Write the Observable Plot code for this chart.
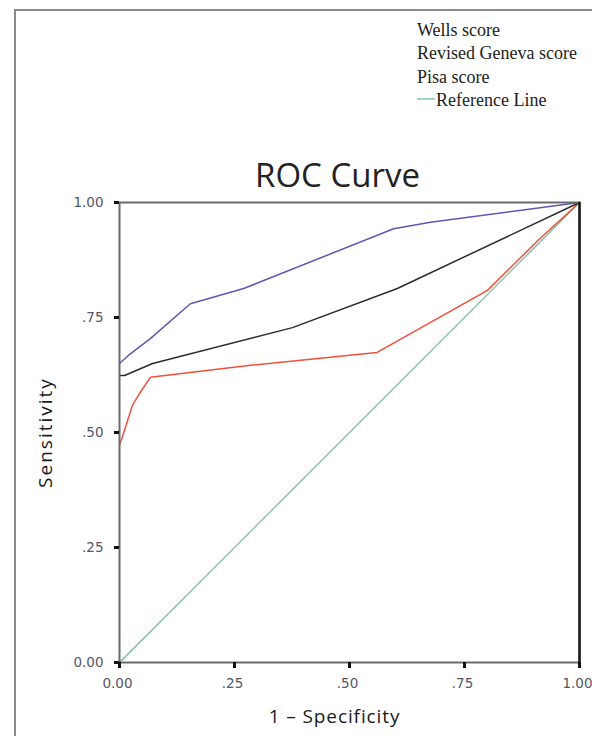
<!DOCTYPE html>
<html>
<head>
<meta charset="utf-8">
<script src="https://cdn.jsdelivr.net/npm/d3@7"></script>
<script src="https://cdn.jsdelivr.net/npm/@observablehq/plot@0.6"></script>
<style>
  html, body { margin: 0; padding: 0; background: #fff; }
  #wrap { position: relative; width: 592px; height: 736px; overflow: hidden; background: #fff; }
  #border { position: absolute; left: 14px; top: 9px; width: 700px; height: 800px;
            border-left: 2px solid #8a8a8a; border-top: 2px solid #8a8a8a; }
  #chart { position: absolute; left: 0; top: 0; }
  #legend { position: absolute; left: 417px; top: 19px; font-family: "Liberation Serif", serif;
            font-size: 18px; line-height: 23.3px; color: #222; white-space: nowrap; }
  #legend .sw { display: inline-block; width: 18px; height: 0; border-top: 2px solid #9fd9bc;
                vertical-align: 6px; margin-right: 1px; }
</style>
</head>
<body>
<div id="wrap">
  <div id="border"></div>
  <div id="chart"></div>
  <div id="legend"></div>
</div>
<script>
// ---- data ----
const seriesNames = ["Wells score", "Revised Geneva score", "Pisa score", "Reference Line"];

const wellsFPR = [0, 0.02, 0.067, 0.154, 0.27, 0.596, 0.676, 1];
const wellsTPR = [0.65, 0.668, 0.704, 0.78, 0.813, 0.943, 0.957, 1];

const genevaFPR = [0, 0.011, 0.072, 0.376, 0.604, 1];
const genevaTPR = [0.624, 0.624, 0.65, 0.728, 0.813, 1];

const pisaFPR = [0, 0.011, 0.028, 0.045, 0.067, 0.285, 0.56, 0.80, 0.91, 1];
const pisaTPR = [0.472, 0.505, 0.559, 0.587, 0.62, 0.646, 0.674, 0.809, 0.918, 1];

const refFPR = [0, 1];
const refTPR = [0, 1];

const tickValues = [0, 0.25, 0.5, 0.75, 1];
const tickLabels = ["0.00", ".25", ".50", ".75", "1.00"];

const titleText = "ROC Curve";
const xTitle = "1 – Specificity";
const yTitle = "Sensitivity";

// ---- build tables ----
const toRows = (xs, ys) => xs.map((x, i) => ({x, y: ys[i]}));
const wells = toRows(wellsFPR, wellsTPR);
const geneva = toRows(genevaFPR, genevaTPR);
const pisa = toRows(pisaFPR, pisaTPR);
const ref = toRows(refFPR, refTPR);

const fmt = d => tickLabels[tickValues.indexOf(d)];

const chart = Plot.plot({
  width: 592,
  height: 736,
  marginLeft: 119,
  marginRight: 13,
  marginTop: 202,
  marginBottom: 74,
  style: {fontFamily: "DejaVu Sans", fontSize: "13.5px", background: "transparent"},
  x: {domain: [0, 1]},
  y: {domain: [0, 1]},
  marks: [
    Plot.line(ref, {x: "x", y: "y", stroke: "#5dbd8e", strokeWidth: 1.2}),
    Plot.line(pisa, {x: "x", y: "y", stroke: "#f0503a", strokeWidth: 1.5}),
    Plot.line(geneva, {x: "x", y: "y", stroke: "#2b2b2b", strokeWidth: 1.5}),
    Plot.line(wells, {x: "x", y: "y", stroke: "#5e56b8", strokeWidth: 1.5}),
    Plot.frame({stroke: "#6a6a6a", strokeWidth: 2}),
    Plot.ruleX([1], {stroke: "#1a1a1a", strokeWidth: 2.5}),
    Plot.axisX({ticks: tickValues, tickFormat: fmt, tickSize: 6, tickPadding: 10,
                stroke: "#111", strokeWidth: 3, fill: "#555566", label: null}),
    Plot.axisY({ticks: tickValues, tickFormat: fmt, tickSize: 5, tickPadding: 11,
                stroke: "#111", strokeWidth: 3, fill: "#555566", label: null}),
    Plot.text([titleText], {frameAnchor: "top", dy: -26, dx: -12, text: d => d,
                fontFamily: "Open Sans", fontSize: 33, fill: "#222", lineAnchor: "middle"}),
    Plot.text([xTitle], {frameAnchor: "bottom", dy: 54, dx: -15, text: d => d,
                fontFamily: "Open Sans", fontSize: 19, fill: "#1a1a1a", lineAnchor: "middle",
                textAnchor: "middle"}),
    Plot.text([yTitle], {frameAnchor: "left", dx: -74, rotate: -90, text: d => d,
                fontFamily: "Open Sans", fontSize: 19, fill: "#1a1a1a", lineAnchor: "middle",
                textAnchor: "middle"})
  ]
});
document.getElementById("chart").appendChild(chart);

// shift x tick labels slightly left so "1.00" stays inside, as in the reference
d3.select(chart).selectAll('[aria-label="x-axis tick label"] text')
  .attr("dx", -2);

// wide tracking of axis titles, as in the reference
d3.select(chart).selectAll("text").filter(function() { return this.textContent === xTitle; })
  .style("letter-spacing", "0.9px");
d3.select(chart).selectAll("text").filter(function() { return this.textContent === yTitle; })
  .style("letter-spacing", "2px");

// legend (entries have no visible swatch except the reference line)
const legend = d3.select("#legend");
seriesNames.forEach((name, i) => {
  const row = legend.append("div");
  if (i === seriesNames.length - 1) row.append("span").attr("class", "sw");
  row.append("span").text(name);
});
</script>
</body>
</html>
